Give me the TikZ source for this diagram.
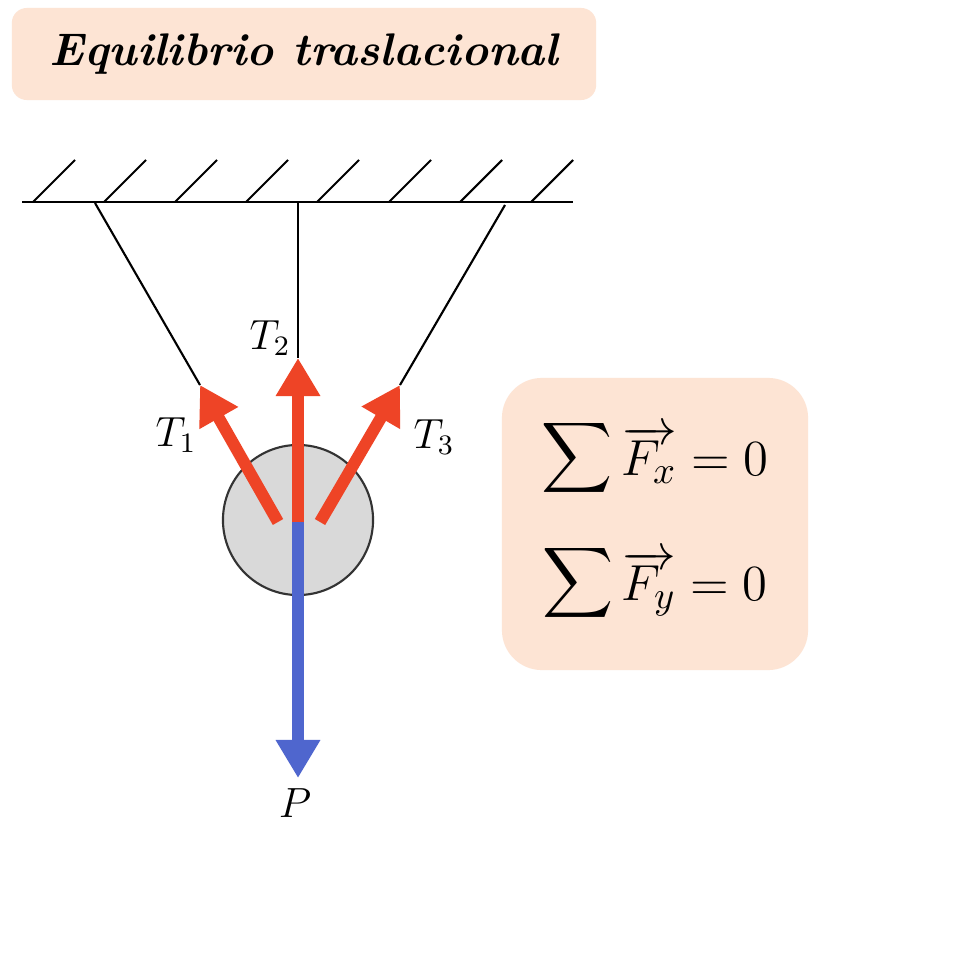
\documentclass[tikz,border=0pt]{standalone}
\usetikzlibrary{arrows.meta}
\definecolor{peach}{HTML}{FDE4D4}
\definecolor{tred}{HTML}{EE4426}
\definecolor{pblue}{HTML}{4F66CE}
\tikzset{
  force/.style={line width=3.4pt,-{Triangle[length=0.38cm,width=0.42cm]}},
  lbl/.style={font=\fontsize{12}{14}\selectfont},
  thin/.style={line width=0.6pt}
}
\begin{document}
\begin{tikzpicture}[x=0.01cm,y=-0.01cm]
\useasboundingbox (0,0) rectangle (968,970);
\fill[white] (0,0) rectangle (968,970);
\node[fill=peach,rounded corners=0.15cm,minimum width=5.84cm,minimum height=0.92cm] (title) at (304,54)
  {\fontsize{13}{15}\selectfont\bfseries\itshape Equilibrio traslacional};
\coordinate (cl) at (22,202); \coordinate (cr) at (573,202);
\draw[thin] (cl) -- (cr);
\foreach \x in {33,104,175,246,317,389,460,531} \draw[thin] (\x,202) -- ++(42,-42);
\node[circle,draw=black!80,fill=black!15,minimum size=1.5cm,thin] (ball) at (298,520) {};
\coordinate (a1) at (95,203); \coordinate (a2) at (298,203); \coordinate (a3) at (505,205);
\coordinate (e1) at (200,385); \coordinate (e2) at (298,358); \coordinate (e3) at (400,385);
\coordinate (s1) at (278,522); \coordinate (s2) at (298,522); \coordinate (s3) at (320,522);
\coordinate (pe) at (298,778);
\draw[thin] (a1) -- (e1); \draw[thin] (a2) -- (e2); \draw[thin] (a3) -- (e3);
\draw[force,pblue] (s2) -- (pe);
\draw[force,tred] (s1) -- (e1);
\draw[force,tred] (s2) -- (e2);
\draw[force,tred] (s3) -- (e3);
\node[lbl] (t2) at (270,338) {$T_2$};
\node[lbl] (t1) at (176,435) {$T_1$};
\node[lbl] (t3) at (434,437) {$T_3$};
\node[lbl] (p) at (295,803) {$P$};
\node[fill=peach,rounded corners=0.4cm,minimum width=3.06cm,minimum height=2.92cm] (box) at (655,524) {};
\node[font=\fontsize{15}{18}\selectfont] (eq1) at (655,458) {$\displaystyle\mathop{\scalebox{1.4}{$\displaystyle\sum$}}\overrightarrow{F_x}=0$};
\node[font=\fontsize{15}{18}\selectfont] (eq2) at (655,583) {$\displaystyle\mathop{\scalebox{1.4}{$\displaystyle\sum$}}\overrightarrow{F_y}=0$};
\end{tikzpicture}
\end{document}
